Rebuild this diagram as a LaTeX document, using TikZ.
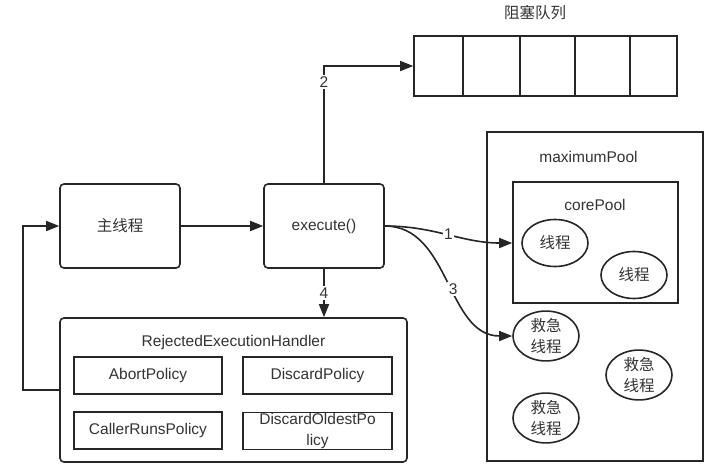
\documentclass[tikz,border=0pt]{standalone}
\usepackage{fontspec}
\setmainfont{Liberation Sans}
\newfontfamily\cjk{Noto Sans CJK SC}
\usetikzlibrary{arrows.meta,shapes.geometric}
\definecolor{ink}{HTML}{262626}
\definecolor{txt}{HTML}{333333}
\newcommand\fs{\fontsize{15.5}{20}\selectfont}
\tikzset{
  box/.style={draw=ink, line width=1.6pt, rounded corners=4pt, inner sep=0pt, text=txt},
  sqbox/.style={draw=ink, line width=1.6pt, inner sep=0pt, text=txt},
  thread/.style={ellipse, draw=ink, line width=1.6pt, minimum width=66pt, minimum height=47pt,
    inner sep=0pt, align=center, text=txt, font=\cjk\fontsize{15.5}{21}\selectfont},
  arr/.style={draw=ink, line width=1.6pt, -{Triangle[length=13pt,width=10pt]}},
  lbl/.style={fill=white, inner sep=1.5pt, text=txt},
}

\begin{document}
\begin{tikzpicture}[x=1pt, y=-1pt, font=\fs]
              \useasboundingbox (0,0) rectangle (723,471);
              % main thread and execute()
              \node[box, minimum width=120pt, minimum height=84pt, font=\cjk\fs] (main) at (120,226) {主线程};
              \node[box, minimum width=120pt, minimum height=84pt] (exec) at (324,226) {execute()};
              % blocking queue
              \node[text=txt, font=\cjk\fs] (qtitle) at (535,13) {阻塞队列};
              \foreach \a/\b [count=\i] in {414/463, 463/520, 520/575, 575/630, 630/677}
                \node[sqbox, minimum width={(\b-\a)*1pt}, minimum height=60pt] (q\i) at ({(\a+\b)/2},66) {};
              % rejection handler
              \node[box, minimum width=347pt, minimum height=144pt] (handler) at (233.5,390) {};
              \node[text=txt] (htitle) at (233.5,342) {RejectedExecutionHandler};
              \node[sqbox, minimum width=148pt, minimum height=37pt] (abort) at (148,375.5) {AbortPolicy};
              \node[sqbox, minimum width=149pt, minimum height=37pt] (discard) at (317.5,375.5) {DiscardPolicy};
              \node[sqbox, minimum width=148pt, minimum height=37pt] (caller) at (148,430.5) {CallerRunsPolicy};
              \node[sqbox, minimum width=149pt, minimum height=37pt, align=center,
                    font=\fontsize{15.5}{21}\selectfont] (oldest) at (317.5,431) {DiscardOldestPo\\licy};
              % pools
              \node[sqbox, minimum width=216pt, minimum height=329pt] (maxpool) at (595,296.5) {};
              \node[text=txt] (maxtitle) at (588.5,157) {maximumPool};
              \node[sqbox, minimum width=165pt, minimum height=121pt] (core) at (595.5,242.5) {};
              \node[text=txt] (coretitle) at (595,205) {corePool};
              \node[thread] (t1) at (555,243) {线程};
              \node[thread] (t2) at (634,275) {线程};
              \node[thread] (e1) at (546,336) {救急\\线程};
              \node[thread] (e2) at (639,375) {救急\\线程};
              \node[thread] (e3) at (546,418) {救急\\线程};
              % connectors
              \draw[arr] (main) -- (exec);
              \draw[arr] (exec.north) |- node[lbl, pos=0.43] {2} (q1.west);
              \draw[arr] (exec.east) to[out=0, in=180] node[lbl, pos=0.5] {1} (core.west |- t1.west);
              \draw[arr] (exec.east) to[out=0, in=180] node[lbl, pos=0.55] {3} (e1.west);
              \draw[arr] (exec.south) -- node[lbl, pos=0.5] {4} (exec.south |- handler.north);
              \draw[arr] (handler.west) -- ++(-36,0) |- (main.west);
            \end{tikzpicture}
\end{document}
